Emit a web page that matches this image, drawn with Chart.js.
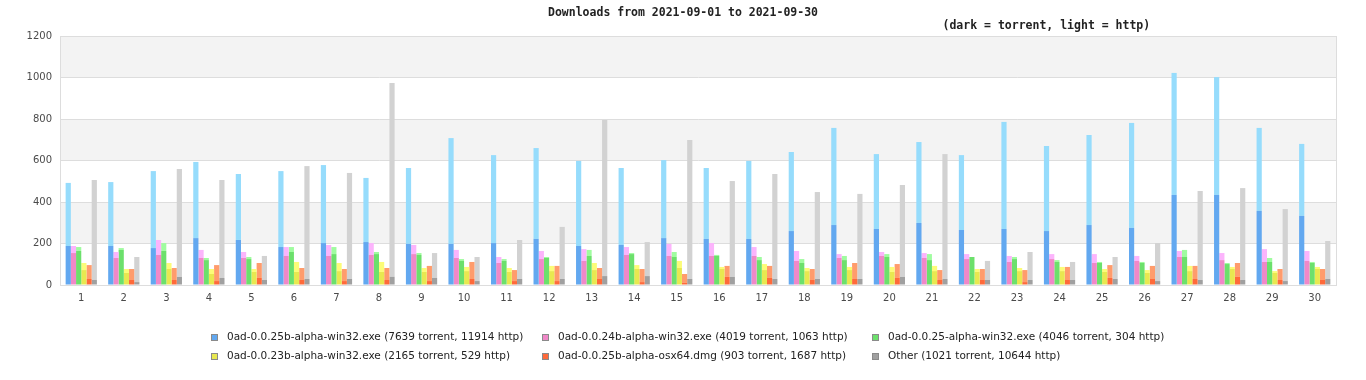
<!DOCTYPE html>
<html>
<head>
<meta charset="utf-8">
<title>Downloads</title>
<script src="https://cdn.jsdelivr.net/npm/chart.js@4.4.0/dist/chart.umd.min.js"></script>
<style>
    html, body { margin: 0; padding: 0; background: #fff; }
</style>
</head>
<body>
<canvas id="downloads-chart" width="1366" height="380"></canvas>
<script>
// days of the month
const days = ["1","2","3","4","5","6","7","8","9","10","11","12","13","14","15",
              "16","17","18","19","20","21","22","23","24","25","26","27","28","29","30"];

const fileNames = [
    "0ad-0.0.25b-alpha-win32.exe",
    "0ad-0.0.24b-alpha-win32.exe",
    "0ad-0.0.25-alpha-win32.exe",
    "0ad-0.0.23b-alpha-win32.exe",
    "0ad-0.0.25b-alpha-osx64.dmg",
    "Other"
];
const torrentTotals = [7639, 4019, 4046, 2165, 903, 1021];
const httpTotals = [11914, 1063, 304, 529, 1687, 10644];

// per day values
const win25bTorrent = [188,188,178,226,217,183,202,207,198,198,202,222,188,193,226,222,222,260,289,270,299,265,270,260,289,275,434,434,357,333];
const win25bHttp    = [304,308,371,367,318,366,376,309,366,510,424,438,410,371,376,342,376,381,468,361,390,361,516,410,434,506,588,568,400,347];

const win24bTorrent = [154,130,145,130,130,140,140,145,149,130,106,125,116,145,140,140,140,116,130,140,130,125,111,125,106,116,135,120,111,116];
const win24bHttp    = [34,29,72,39,29,43,53,57,44,39,29,39,57,38,58,62,43,48,19,19,24,24,29,24,43,24,29,34,62,48];

const win25Torrent = [164,169,164,120,125,159,149,149,145,116,116,130,140,149,135,140,120,106,120,135,120,135,125,111,106,106,135,101,111,106];
const win25Http    = [19,9,38,10,10,24,34,10,9,9,9,5,29,5,24,5,15,19,20,14,29,0,10,9,5,5,34,5,19,5];

const win23bTorrent = [72,58,77,53,63,63,67,63,63,67,63,67,72,77,82,77,72,67,72,63,67,63,67,67,63,58,67,77,58,77];
const win23bHttp    = [34,19,29,24,14,48,39,48,19,20,19,25,34,19,34,10,29,15,15,24,25,14,15,20,14,14,25,10,9,10];

const osx25bTorrent = [29,24,24,19,34,24,19,24,19,29,19,19,29,14,10,39,34,24,29,34,24,24,14,24,34,29,29,39,24,24];
const osx25bHttp    = [67,53,58,77,72,58,58,58,73,82,53,73,53,63,43,53,58,53,77,67,48,53,58,63,62,63,63,67,53,53];

const otherTorrent = [24,14,39,34,24,29,29,39,34,19,29,29,43,43,29,39,29,29,29,39,29,24,24,24,29,19,24,24,19,29];
const otherHttp    = [482,121,520,472,116,544,511,934,120,116,188,251,752,164,670,462,506,419,410,443,602,92,135,87,106,183,429,443,347,183];

const torrentData = [win25bTorrent, win24bTorrent, win25Torrent, win23bTorrent, osx25bTorrent, otherTorrent];
const httpData = [win25bHttp, win24bHttp, win25Http, win23bHttp, osx25bHttp, otherHttp];

const darkColors = ["#62a8f0", "#f088c8", "#6ce06c", "#e8e850", "#ff6a3a", "#a0a0a0"];
const lightColors = ["#96dcfc", "#fcb4fc", "#a0fca0", "#fcfc78", "#ff9c6c", "#d2d2d2"];

//-----------------------
const buildDatasets = () => {
    const datasets = [];
    fileNames.forEach((name, i) => {
        datasets.push({
            label: `${name} torrent`,
            data: torrentData[i],
            backgroundColor: darkColors[i],
            stack: `s${i}`,
            borderWidth: 0
        });
        datasets.push({
            label: `${name} http`,
            data: httpData[i],
            backgroundColor: lightColors[i],
            stack: `s${i}`,
            borderWidth: 0
        });
    });
    return datasets;
}

// alternating grey bands + frame round the plot
const bandsPlugin = {
    id: "bands",
    beforeDraw: (chart) => {
        const ctx = chart.ctx;
        const area = chart.chartArea;
        const y = chart.scales.y;
        ctx.save();
        ctx.fillStyle = "#fff";
        ctx.fillRect(0, 0, chart.width, chart.height);
        ctx.fillStyle = "#f3f3f3";
        for (let v = 200; v < 1200; v += 400) {
            const top = y.getPixelForValue(v + 200);
            const bottom = y.getPixelForValue(v);
            ctx.fillRect(area.left, top, area.right - area.left, bottom - top);
        }
        ctx.restore();
    },
    beforeDatasetsDraw: (chart) => {
        const ctx = chart.ctx;
        const area = chart.chartArea;
        ctx.save();
        ctx.strokeStyle = "#dddddd";
        ctx.lineWidth = 1;
        ctx.strokeRect(Math.round(area.left) + 0.5, Math.round(area.top) + 0.5,
            Math.round(area.right - area.left), Math.round(area.bottom - area.top));
        ctx.restore();
    }
};

// titles and a legend laid out as a grid
const legendPlugin = {
    id: "gridLegend",
    afterDraw: (chart) => {
        const ctx = chart.ctx;
        const area = chart.chartArea;
        ctx.save();
        ctx.font = "bold 11.5px 'DejaVu Sans Mono'";
        ctx.fillStyle = "#222";
        ctx.textAlign = "center";
        ctx.textBaseline = "middle";
        ctx.fillText("Downloads from 2021-09-01 to 2021-09-30", chart.width / 2, 13);
        ctx.fillText("(dark = torrent, light = http)", area.left + (area.right - area.left) * 0.773, 26.5);

        const cols = [211, 542, 872];
        const rows = [337.5, 356];
        ctx.font = "10.5px 'DejaVu Sans'";
        ctx.textAlign = "left";
        fileNames.forEach((name, i) => {
            const x = cols[i % 3];
            const yy = rows[Math.floor(i / 3)];
            ctx.fillStyle = darkColors[i];
            ctx.fillRect(x, Math.round(yy - 3.5), 7, 7);
            ctx.strokeStyle = "#8a8a8a";
            ctx.strokeRect(x + 0.5, Math.round(yy - 3.5) + 0.5, 6, 6);
            ctx.fillStyle = "#222";
            ctx.fillText(`${name} (${torrentTotals[i]} torrent, ${httpTotals[i]} http)`, x + 16, yy);
        });
        ctx.restore();
    }
};

const downloadsGraph = new Chart(
    document.getElementById("downloads-chart"), {
        type: "bar",
        data: {
            labels: days,
            datasets: buildDatasets()
        },
        plugins: [bandsPlugin, legendPlugin],
        options: {
            responsive: false,
            animation: false,
            barPercentage: 1,
            categoryPercentage: 0.735,
            layout: {
                padding: { left: 0, right: 30, top: 36, bottom: 70 }
            },
            scales: {
                x: {
                    stacked: true,
                    grid: { display: false, drawTicks: false },
                    border: { color: "#dddddd" },
                    ticks: {
                        color: "#4a4a4a",
                        padding: 7,
                        font: { family: "DejaVu Sans", size: 10 }
                    },
                    afterFit: (scale) => { scale.height = 25; }
                },
                y: {
                    stacked: true,
                    min: 0,
                    max: 1200,
                    grid: { color: "#dddddd", drawTicks: false },
                    border: { color: "#dddddd" },
                    ticks: {
                        stepSize: 200,
                        color: "#4a4a4a",
                        padding: 8,
                        font: { family: "DejaVu Sans", size: 10 },
                        callback: (value) => `${value}`
                    },
                    afterFit: (scale) => { scale.width = 60; }
                }
            },
            plugins: {
                legend: { display: false },
                tooltip: { enabled: false },
                title: { display: false }
            }
        }
    }
);
</script>
</body>
</html>
